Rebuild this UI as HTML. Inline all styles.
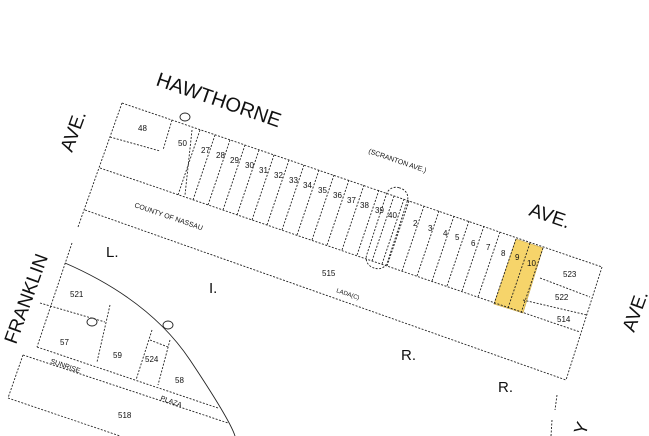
<!DOCTYPE html>
<html><head><meta charset="utf-8"><style>
html,body{margin:0;padding:0;background:#fff}
svg{display:block}
text{font-family:"Liberation Sans",sans-serif;fill:#111}
.d{stroke:#222;stroke-width:0.9;stroke-dasharray:2 1.5;fill:none}
.s{stroke:#222;stroke-width:0.9;fill:none}
.n{font-size:8px}
</style></head><body>
<svg width="649" height="436" viewBox="0 0 649 436" xmlns="http://www.w3.org/2000/svg">
<polygon points="516,239 543,248 523,313 494,304" fill="#f6d46a" stroke="#c9a84a" stroke-width="0.6"/>
<line class="d" x1="122" y1="103" x2="602" y2="267"/>
<line class="d" x1="122" y1="103" x2="78" y2="227"/>
<line class="d" x1="100" y1="168" x2="580" y2="332"/>
<line class="d" x1="85" y1="210" x2="566" y2="380"/>
<line class="d" x1="602" y1="267" x2="566" y2="380"/>
<line class="d" x1="540" y1="278" x2="590" y2="297"/>
<line class="d" x1="523" y1="300" x2="587" y2="315"/>
<line class="d" x1="172" y1="120" x2="163" y2="150"/>
<line class="d" x1="110" y1="137" x2="160" y2="151"/>
<line class="d" x1="192" y1="130" x2="185" y2="195"/>
<g class="d">
<line x1="200" y1="130" x2="178" y2="195"/>
<line x1="215" y1="135" x2="193" y2="200"/>
<line x1="230" y1="140" x2="208" y2="205"/>
<line x1="245" y1="145" x2="223" y2="210"/>
<line x1="259" y1="150" x2="237" y2="215"/>
<line x1="274" y1="155" x2="252" y2="220"/>
<line x1="289" y1="160" x2="267" y2="225"/>
<line x1="304" y1="165" x2="282" y2="230"/>
<line x1="319" y1="170" x2="297" y2="235"/>
<line x1="334" y1="175" x2="312" y2="240"/>
<line x1="349" y1="180" x2="327" y2="245"/>
<line x1="364" y1="185" x2="342" y2="250"/>
<line x1="379" y1="190" x2="357" y2="255"/>
<line x1="394" y1="196" x2="372" y2="261"/>
<line x1="404" y1="199" x2="382" y2="264"/>
<line x1="409" y1="201" x2="387" y2="266"/>
<line x1="424" y1="206" x2="402" y2="271"/>
<line x1="439" y1="211" x2="417" y2="276"/>
<line x1="454" y1="216" x2="432" y2="281"/>
<line x1="469" y1="221" x2="447" y2="286"/>
<line x1="484" y1="226" x2="462" y2="291"/>
<line x1="500" y1="232" x2="478" y2="297"/>
<line x1="516" y1="239" x2="494" y2="304"/>
<line x1="530" y1="243" x2="508" y2="308"/>
<line x1="543" y1="248" x2="521" y2="313"/>
</g>
<rect x="376" y="186" width="22" height="84" rx="10" class="d" transform="rotate(18 387 228)"/>
<ellipse cx="185" cy="117" rx="5" ry="4" class="s"/>
<ellipse cx="92" cy="322" rx="5" ry="4" class="s"/>
<ellipse cx="168" cy="325" rx="5" ry="4" class="s"/>
<path class="s" d="M65,263 Q150,300 190,360 T235,436"/>
<line class="d" x1="72" y1="243" x2="37" y2="347"/>
<line class="d" x1="37" y1="347" x2="218" y2="408"/>
<line class="d" x1="23" y1="355" x2="228" y2="423"/>
<line class="d" x1="23" y1="355" x2="8" y2="398"/>
<line class="d" x1="8" y1="398" x2="120" y2="436"/>
<line class="d" x1="40" y1="303" x2="105" y2="322"/>
<line class="d" x1="110" y1="305" x2="97" y2="362"/>
<line class="d" x1="152" y1="330" x2="136" y2="380"/>
<line class="d" x1="170" y1="340" x2="158" y2="385"/>
<line class="d" x1="150" y1="340" x2="168" y2="347"/>
<line class="d" x1="557" y1="395" x2="555" y2="410"/>
<line class="d" x1="552" y1="420" x2="551" y2="436"/>
<text x="155" y="85" font-size="20" transform="rotate(19 155 85)">HAWTHORNE</text>
<text x="528" y="215" font-size="19" transform="rotate(19 528 215)">AVE.</text>
<text x="72" y="153" font-size="19" transform="rotate(-70 72 153)">AVE.</text>
<text x="16" y="345" font-size="19" transform="rotate(-70 16 345)">FRANKLIN</text>
<text x="634" y="333" font-size="19" transform="rotate(-70 634 333)">AVE.</text>
<text x="585" y="436" font-size="18" transform="rotate(-70 585 436)">Y</text>
<text x="368" y="153" font-size="7" transform="rotate(19 368 153)">(SCRANTON AVE.)</text>
<text x="134" y="207" font-size="7" transform="rotate(19 134 207)">COUNTY OF NASSAU</text>
<text x="106" y="257" font-size="15">L.</text>
<text x="209" y="293" font-size="15">I.</text>
<text x="401" y="360" font-size="15">R.</text>
<text x="498" y="392" font-size="15">R.</text>
<text x="50" y="363" font-size="7" transform="rotate(19 50 363)">SUNRISE</text>
<text x="160" y="400" font-size="7" transform="rotate(19 160 400)">PLAZA</text>
<g class="n">
<text x="138" y="131">48</text><text x="178" y="146">50</text>
<text x="201" y="153">27</text><text x="216" y="158">28</text><text x="230" y="163">29</text>
<text x="245" y="168">30</text><text x="259" y="173">31</text><text x="274" y="178">32</text>
<text x="289" y="183">33</text><text x="303" y="188">34</text><text x="318" y="193">35</text>
<text x="333" y="198">36</text><text x="347" y="203">37</text><text x="360" y="208">38</text>
<text x="375" y="213">39</text><text x="388" y="218">40</text><text x="413" y="226">2</text>
<text x="428" y="231">3</text><text x="443" y="236">4</text><text x="455" y="240">5</text>
<text x="471" y="246">6</text><text x="486" y="250">7</text><text x="501" y="256">8</text>
<text x="515" y="260">9</text><text x="527" y="266">10</text>
<text x="563" y="277">523</text><text x="555" y="300">522</text><text x="557" y="322">514</text>
<text x="322" y="276">515</text><text x="336" y="292" font-size="6" transform="rotate(19 336 292)">LADA(C)</text>
<text x="70" y="297">521</text><text x="60" y="345">57</text><text x="113" y="358">59</text>
<text x="145" y="362">524</text><text x="175" y="383">58</text><text x="118" y="418">518</text>
</g>
</svg>
</body></html>
